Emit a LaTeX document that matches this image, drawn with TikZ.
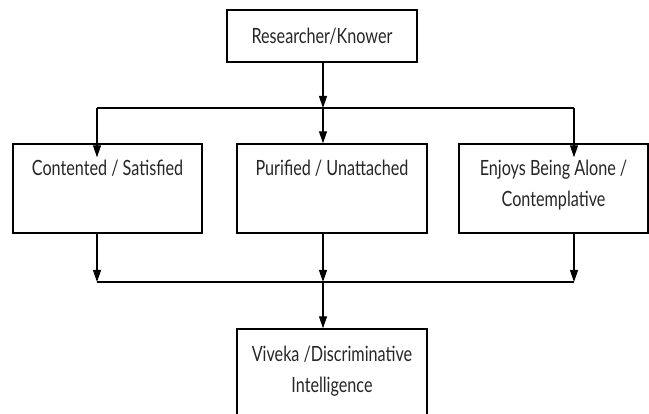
\documentclass[tikz,border=0pt]{standalone}
\usepackage{fontspec}
\setmainfont{Lato}[FakeStretch=0.77]
\usetikzlibrary{arrows.meta,calc}
\begin{document}
\begin{tikzpicture}[x=1pt,y=-1pt,
  box/.style={draw, line width=1.4pt, inner sep=0pt},
  boxtext/.style={anchor=base, align=center, inner sep=0pt, text=black!85,
    font=\fontsize{21}{31}\selectfont},
  link/.style={line width=1.2pt, -{Triangle[length=12pt,width=8pt]}},
  bar/.style={line width=1.2pt}]
\useasboundingbox (0,0) rectangle (649,414);

% boxes
\node[box, minimum width=190pt, minimum height=52pt, text=black!85,
  font=\fontsize{21}{31}\selectfont] (knower) at (322,36) {Researcher/Knower};
\node[box, minimum width=189pt, minimum height=89pt] (content) at (107.5,188.5) {};
\node[box, minimum width=190pt, minimum height=89pt] (pure) at (332,188.5) {};
\node[box, minimum width=189pt, minimum height=89pt] (alone) at (553.5,188.5) {};
\node[box, minimum width=190pt, minimum height=89pt] (viveka) at (332,373.5) {};

% box texts (base anchor sits on the last line)
\node[boxtext] (contentText) at ($(content.north)+(0,32)$) {Contented / Satisfied};
\node[boxtext] (pureText) at ($(pure.north)+(0,32)$) {Purified / Unattached};
\node[boxtext] (aloneText) at ($(alone.north)+(0,63)$) {Enjoys Being Alone /\\Contemplative};
\node[boxtext] (vivekaText) at ($(viveka.north)+(0,64)$) {Viveka /Discriminative\\Intelligence};

% junction points
\coordinate (splitL) at (97,108);
\coordinate (split) at (323,108);
\coordinate (splitR) at (574,108);
\coordinate (joinL) at (97,282);
\coordinate (join) at (323,282);
\coordinate (joinR) at (574,282);

% fan out
\draw[link] (knower.south -| split) -- (split);
\draw[bar] (splitL) -- (splitR);
\draw[link] (splitL) -- ($(content.north -| splitL)+(0,14)$);
\draw[link] (split) -- (split |- pure.north);
\draw[link] (splitR) -- ($(alone.north -| splitR)+(0,14)$);

% fan in
\draw[link] (content.south -| joinL) -- (joinL);
\draw[link] (pure.south -| join) -- (join);
\draw[link] (alone.south -| joinR) -- (joinR);
\draw[bar] (joinL) -- (joinR);
\draw[link] (join) -- (join |- viveka.north);
\end{tikzpicture}
\end{document}
